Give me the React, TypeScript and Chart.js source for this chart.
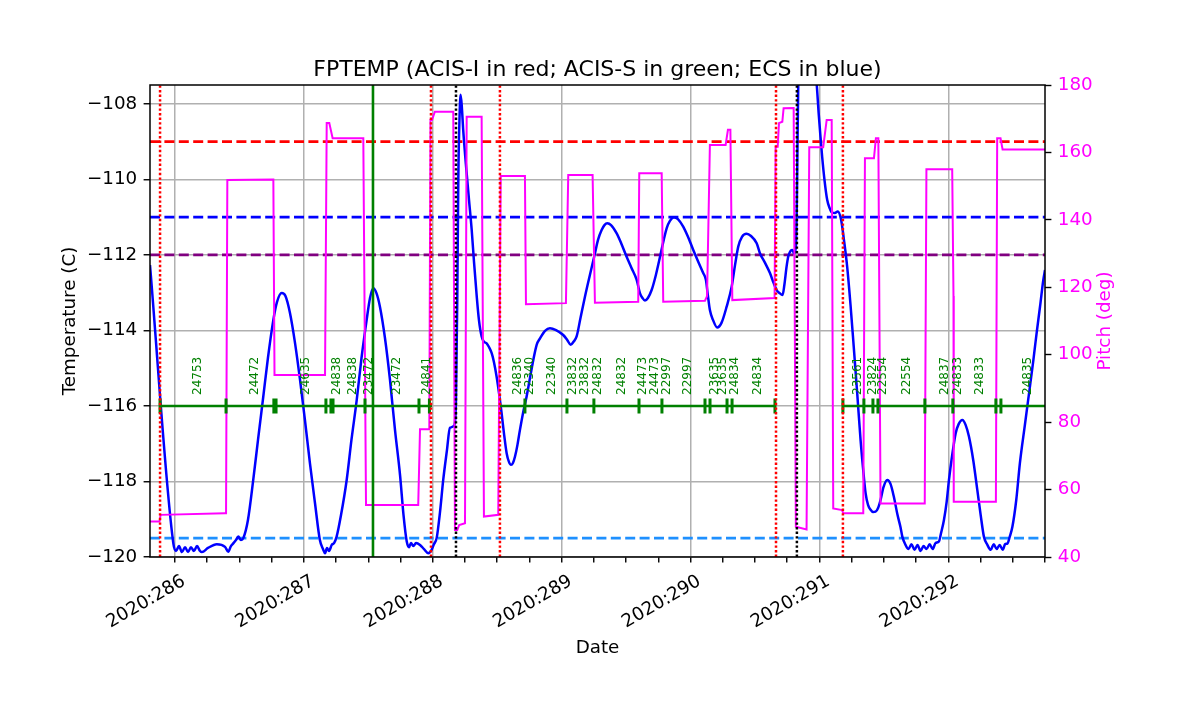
import React, { useEffect, useRef } from "react";
import { Chart, registerables } from "chart.js";

Chart.register(...registerables);

// ---------- data (day of year 2020, fractional) ----------
const tempTimes = [
  285.806, 285.987, 286.008, 286.031, 286.054, 286.078, 286.101, 286.124, 286.147, 286.171,
  286.194, 286.209, 286.256, 286.324, 286.388, 286.413, 286.434, 286.452, 286.473, 286.491,
  286.512, 286.530, 286.566, 286.607, 286.644, 286.685, 286.721, 286.763, 286.791, 286.828,
  286.857, 286.892, 286.931, 286.970, 287.008, 287.047, 287.086, 287.124, 287.148, 287.164,
  287.179, 287.195, 287.216, 287.234, 287.254, 287.288, 287.332, 287.369, 287.410, 287.447,
  287.487, 287.513, 287.538, 287.563, 287.590, 287.629, 287.668, 287.707, 287.746, 287.773,
  287.798, 287.816, 287.831, 287.849, 287.870, 287.901, 287.932, 287.965, 287.991, 288.009,
  288.030, 288.056, 288.081, 288.110, 288.133, 288.164, 288.180, 288.190, 288.198, 288.207,
  288.216, 288.226, 288.236, 288.263, 288.281, 288.302, 288.320, 288.341, 288.358, 288.379,
  288.397, 288.418, 288.436, 288.457, 288.474, 288.495, 288.514, 288.534, 288.552, 288.573,
  288.591, 288.607, 288.622, 288.638, 288.657, 288.676, 288.700, 288.728, 288.754, 288.780,
  288.806, 288.832, 288.871, 288.909, 288.956, 289.012, 289.043, 289.070, 289.092, 289.116,
  289.146, 289.181, 289.219, 289.258, 289.282, 289.310, 289.332, 289.354, 289.383, 289.427,
  289.464, 289.504, 289.541, 289.582, 289.607, 289.627, 289.646, 289.669, 289.698, 289.731,
  289.763, 289.790, 289.815, 289.840, 289.871, 289.902, 289.943, 289.980, 290.021, 290.057,
  290.098, 290.119, 290.134, 290.150, 290.174, 290.207, 290.240, 290.280, 290.319, 290.345,
  290.370, 290.399, 290.435, 290.469, 290.513, 290.539, 290.578, 290.616, 290.644, 290.668,
  290.690, 290.714, 290.728, 290.745, 290.759, 290.777, 290.791, 290.802, 290.817, 290.825,
  290.836, 290.900, 290.976, 290.994, 291.008, 291.021, 291.039, 291.060, 291.078, 291.098,
  291.120, 291.142, 291.168, 291.190, 291.215, 291.241, 291.266, 291.293, 291.319, 291.338,
  291.358, 291.377, 291.397, 291.416, 291.435, 291.455, 291.474, 291.497, 291.526, 291.552,
  291.577, 291.606, 291.629, 291.643, 291.668, 291.691, 291.714, 291.738, 291.761, 291.784,
  291.808, 291.831, 291.855, 291.878, 291.901, 291.927, 291.944, 291.966, 291.987, 292.005,
  292.030, 292.057, 292.080, 292.109, 292.134, 292.160, 292.193, 292.225, 292.251, 292.276,
  292.303, 292.329, 292.352, 292.375, 292.398, 292.422, 292.441, 292.459, 292.476, 292.497,
  292.527, 292.555, 292.594, 292.633, 292.660, 292.685, 292.711, 292.737, 292.750,
];
const tempValues = [
  -112.27, -119.64, -119.84, -119.71, -119.87, -119.74, -119.87, -119.74, -119.84, -119.71,
  -119.84, -119.87, -119.76, -119.66, -119.73, -119.86, -119.71, -119.64, -119.55, -119.46,
  -119.55, -119.50, -119.02, -117.96, -116.90, -115.75, -114.73, -113.72, -113.25, -113.01,
  -113.09, -113.54, -114.33, -115.31, -116.37, -117.52, -118.57, -119.55, -119.79, -119.90,
  -119.76, -119.84, -119.68, -119.63, -119.46, -118.89, -117.96, -116.90, -115.84, -114.73,
  -113.72, -113.14, -112.88, -113.01, -113.37, -114.20, -115.31, -116.64, -117.83, -118.89,
  -119.59, -119.74, -119.63, -119.71, -119.63, -119.68, -119.79, -119.90, -119.81, -119.66,
  -119.50, -118.81, -117.96, -117.17, -116.58, -116.53, -115.84, -113.19, -110.01, -108.42,
  -107.76, -108.11, -108.69, -109.84, -110.54, -111.34, -112.19, -113.10, -113.72, -114.16,
  -114.30, -114.34, -114.44, -114.60, -114.83, -115.22, -115.66, -116.19, -116.72, -117.25,
  -117.48, -117.56, -117.51, -117.34, -117.03, -116.64, -116.19, -115.75, -115.26, -114.78,
  -114.38, -114.21, -114.01, -113.94, -113.99, -114.12, -114.25, -114.38, -114.30, -114.16,
  -113.67, -113.10, -112.53, -111.96, -111.60, -111.34, -111.21, -111.16, -111.21, -111.43,
  -111.71, -112.05, -112.34, -112.66, -113.01, -113.14, -113.21, -113.14, -112.93, -112.53,
  -112.05, -111.63, -111.29, -111.10, -111.00, -111.05, -111.25, -111.52, -111.87, -112.16,
  -112.48, -112.66, -113.06, -113.46, -113.72, -113.92, -113.80, -113.37, -112.84, -112.27,
  -111.78, -111.52, -111.44, -111.50, -111.69, -111.96, -112.21, -112.48, -112.74, -112.93,
  -113.01, -113.06, -112.79, -112.31, -112.03, -111.89, -111.87, -111.96, -111.78, -110.54,
  -107.36, -105.50, -107.36, -108.25, -108.87, -109.40, -110.01, -110.54, -110.75, -110.88,
  -110.89, -110.85, -111.07, -111.60, -112.31, -113.32, -114.43, -115.66, -116.90, -117.64,
  -118.31, -118.62, -118.75, -118.81, -118.80, -118.70, -118.49, -118.15, -117.96, -118.07,
  -118.40, -118.89, -119.21, -119.46, -119.68, -119.79, -119.66, -119.81, -119.68, -119.84,
  -119.71, -119.79, -119.66, -119.79, -119.63, -119.59, -119.36, -119.02, -118.54, -117.96,
  -117.30, -116.72, -116.48, -116.37, -116.50, -116.81, -117.43, -118.23, -118.89, -119.46,
  -119.68, -119.81, -119.66, -119.79, -119.68, -119.81, -119.66, -119.64, -119.47, -119.20,
  -118.49, -117.52, -116.50, -115.49, -114.78, -114.07, -113.38, -112.66, -112.40,
];

const pitchTimes = [
  285.806, 285.880, 285.888, 286.388, 286.396, 286.406, 286.763, 286.772, 287.164, 287.177,
  287.197, 287.223, 287.461, 287.482, 287.887, 287.901, 287.973, 287.982, 287.994, 288.016,
  288.159, 288.172, 288.190, 288.205, 288.250, 288.263, 288.379, 288.397, 288.508, 288.527,
  288.715, 288.723, 289.033, 289.051, 289.240, 289.258, 289.594, 289.602, 289.776, 289.788,
  290.112, 290.128, 290.150, 290.272, 290.290, 290.309, 290.324, 290.652, 290.660, 290.676,
  290.686, 290.712, 290.722, 290.800, 290.817, 290.900, 290.921, 291.029, 291.056, 291.095,
  291.107, 291.175, 291.185, 291.340, 291.353, 291.423, 291.438, 291.457, 291.474, 291.817,
  291.830, 292.030, 292.040, 292.042, 292.369, 292.379, 292.405, 292.421, 292.750,
];
const pitchValues = [
  50.5, 50.5, 52.5, 53.0, 53.0, 151.8, 152.0, 94.0, 94.0, 168.7,
  168.7, 164.2, 164.2, 55.4, 55.4, 77.9, 77.9, 169.6, 169.6, 172.1,
  172.1, 48.0, 48.0, 49.5, 50.0, 170.6, 170.6, 52.0, 52.5, 153.0,
  153.0, 115.0, 115.3, 153.3, 153.3, 115.4, 115.7, 153.8, 153.8, 115.7,
  116.0, 117.4, 162.2, 162.2, 166.7, 166.7, 116.2, 116.8, 161.7, 161.7,
  168.7, 169.1, 173.1, 173.2, 49.0, 48.2, 161.5, 161.5, 169.6, 169.6,
  54.4, 53.9, 53.0, 53.0, 158.3, 158.3, 164.2, 164.2, 55.9, 55.9,
  155.0, 155.0, 117.4, 56.4, 56.4, 164.2, 164.2, 160.9, 160.9,
];

// limits (deg C)
const acisILimit = -109.0;
const ecsLimit = -111.0;
const acisSLimit = -112.0;
const planningLimit = -119.5;

// event times
const radZoneTimes = [285.884, 287.986, 288.521, 290.663, 291.182];
const perigeeTimes = [288.180, 290.825];
const nowTimes = [287.536];

// ACIS obsid intervals
const obsidSegStarts = [285.884, 288.521, 291.185];
const obsidSegEnds = [287.994, 290.655, 292.75];
const obsidLevel = -116.0;
const obsidTickTimes = [
  285.884, 286.396, 286.767, 286.784, 287.171, 287.210, 287.226, 287.474, 287.893, 287.974,
  288.715, 289.041, 289.250, 289.600, 289.778, 290.112, 290.151, 290.283, 290.322, 290.655,
  291.182, 291.345, 291.415, 291.454, 291.818, 292.035, 292.369, 292.408,
];
const obsidLabelTimes = [
  286.178, 286.621, 287.016, 287.257, 287.381, 287.505, 287.722, 287.955,
  288.661, 288.754, 288.925, 289.088, 289.181, 289.282, 289.468, 289.631, 289.724, 289.817,
  289.980, 290.189, 290.251, 290.344, 290.523,
  291.299, 291.415, 291.492, 291.679, 291.974, 292.074, 292.245, 292.617,
];
const obsidLabels = [
  "24753", "24472", "24635", "24838", "24838", "23472", "23472", "24841",
  "24836", "22340", "22340", "23832", "23832", "24832", "24832", "24473", "24473", "22997",
  "22997", "23635", "23635", "24834", "24834",
  "23561", "23824", "22554", "22554", "24837", "24833", "24833", "24835",
];
const obsidLabelLevel = -115.71;

const xTickYear = "2020";

// ---------- helpers ----------
const FONT = "'DejaVu Sans', 'Liberation Sans', sans-serif";
const TICK_FONT = 18.3;
const T_MIN = -120;
const T_MAX = -107.5;
const X_MIN = 285.806;
const X_MAX = 292.75;

function verticalLines(times: number[], lo: number, hi: number) {
  const pts: any[] = [];
  times.forEach((t) => {
    pts.push({ x: t, y: lo }, { x: t, y: hi }, { x: t, y: null });
  });
  return pts;
}

const framePlugin = {
  id: "frame",
  afterDatasetsDraw(chart: any) {
    const { ctx, chartArea: a } = chart;
    ctx.save();
    ctx.strokeStyle = "#000";
    ctx.lineWidth = 1.5;
    ctx.strokeRect(a.left, a.top, a.right - a.left, a.bottom - a.top);
    ctx.restore();
  },
};

const labelPlugin = {
  id: "obsidLabels",
  afterDatasetsDraw(chart: any) {
    const { ctx, scales } = chart;
    const x = scales.x;
    const y = scales.y;
    ctx.save();
    ctx.fillStyle = "#008000";
    ctx.font = `12px ${FONT}`;
    ctx.textAlign = "left";
    ctx.textBaseline = "middle";
    obsidLabelTimes.forEach((t, i) => {
      const px = x.getPixelForValue(t);
      const py = y.getPixelForValue(obsidLabelLevel);
      ctx.save();
      ctx.translate(px, py);
      ctx.rotate(-Math.PI / 2);
      ctx.fillText(obsidLabels[i], 0, 0);
      ctx.restore();
    });
    // right axis title (reads bottom-to-top like matplotlib)
    const a = chart.chartArea;
    ctx.fillStyle = "#ff00ff";
    ctx.font = `${TICK_FONT}px ${FONT}`;
    ctx.textAlign = "center";
    ctx.translate(1105, (a.top + a.bottom) / 2);
    ctx.rotate(-Math.PI / 2);
    ctx.fillText("Pitch (deg)", 0, 0);
    ctx.restore();
  },
};

export default function App() {
  const ref = useRef<HTMLCanvasElement | null>(null);

  useEffect(() => {
    if (!ref.current) return;
    Chart.defaults.font.family = FONT;

    const tempData = tempTimes.map((t, i) => ({ x: t, y: tempValues[i] }));
    const pitchData = pitchTimes.map((t, i) => ({ x: t, y: pitchValues[i] }));
    const hline = (v: number) => [
      { x: X_MIN, y: v },
      { x: X_MAX, y: v },
    ];
    const segData: any[] = [];
    obsidSegStarts.forEach((s, i) => {
      segData.push({ x: s, y: obsidLevel }, { x: obsidSegEnds[i], y: obsidLevel }, { x: s, y: null });
    });
    const tickData = verticalLines(obsidTickTimes, obsidLevel - 0.2, obsidLevel + 0.2);

    const base = {
      pointRadius: 0,
      pointHoverRadius: 0,
      fill: false,
      spanGaps: false,
      clip: 0,
      yAxisID: "y",
    };
    const dash = [10, 4.4];
    const dot = [2.4, 2.2];

    const chart = new Chart(ref.current, {
      type: "line",
      data: {
        datasets: [
          { ...base, label: "now", data: verticalLines(nowTimes, T_MIN, T_MAX), borderColor: "#008000", borderWidth: 2.6, order: 1 },
          { ...base, label: "radzone", data: verticalLines(radZoneTimes, T_MIN, T_MAX), borderColor: "#ff0000", borderWidth: 2.5, borderDash: dot, order: 1 },
          { ...base, label: "perigee", data: verticalLines(perigeeTimes, T_MIN, T_MAX), borderColor: "#000000", borderWidth: 2.5, borderDash: dot, order: 1 },
          { ...base, label: "obsid ticks", data: tickData, borderColor: "#008000", borderWidth: 3, order: 2 },
          { ...base, label: "obsid segs", data: segData, borderColor: "#008000", borderWidth: 2.6, order: 2 },
          { ...base, label: "pitch", data: pitchData, borderColor: "#ff00ff", borderWidth: 2, yAxisID: "y2", order: 3 },
          { ...base, label: "FPTEMP", data: tempData, borderColor: "#0000ff", borderWidth: 2.5, cubicInterpolationMode: "monotone", order: 4 },
          { ...base, label: "ACIS-I", data: hline(acisILimit), borderColor: "#ff0000", borderWidth: 2.6, borderDash: dash, order: 5 },
          { ...base, label: "ECS", data: hline(ecsLimit), borderColor: "#0000ff", borderWidth: 2.6, borderDash: dash, order: 5 },
          { ...base, label: "ACIS-S", data: hline(acisSLimit), borderColor: "#800080", borderWidth: 2.6, borderDash: dash, order: 5 },
          { ...base, label: "planning", data: hline(planningLimit), borderColor: "#1e90ff", borderWidth: 2.6, borderDash: dash, order: 5 },
        ] as any,
      },
      options: {
        animation: false,
        responsive: false,
        devicePixelRatio: 1,
        events: [],
        layout: { padding: 0 },
        plugins: {
          legend: { display: false },
          tooltip: { enabled: false },
          title: {
            display: true,
            text: "FPTEMP (ACIS-I in red; ACIS-S in green; ECS in blue)",
            color: "#000",
            fullSize: false,
            font: { family: FONT, size: 22, weight: "normal", lineHeight: 1.2 },
            padding: { top: 57, bottom: 1.6 },
          },
        },
        scales: {
          x: {
            type: "linear",
            position: "bottom",
            min: X_MIN,
            max: X_MAX,
            afterFit: (s: any) => {
              s.height = 157;
            },
            border: { display: false },
            grid: {
              color: (c: any) =>
                c.tick && Math.abs(c.tick.value - Math.round(c.tick.value)) < 1e-6 ? "#b0b0b0" : "rgba(0,0,0,0)",
              lineWidth: 1.5,
              tickColor: "#000",
              tickWidth: 1.4,
              tickLength: 5.5,
              drawTicks: true,
            },
            ticks: {
              stepSize: 0.25,
              maxTicksLimit: 200,
              includeBounds: false,
              autoSkip: false,
              minRotation: 30,
              maxRotation: 30,
              padding: 8,
              labelOffset: 9,
              color: "#000",
              font: { family: FONT, size: TICK_FONT },
              callback: (v: any) => {
                const n = Number(v);
                return Math.abs(n - Math.round(n)) < 1e-6 ? `${xTickYear}:${Math.round(n)}` : "";
              },
            },
            title: {
              display: true,
              text: "Date",
              color: "#000",
              font: { family: FONT, size: TICK_FONT },
              padding: { top: 0, bottom: 55 },
            },
          },
          y: {
            type: "linear",
            position: "left",
            min: T_MIN,
            max: T_MAX,
            afterFit: (s: any) => {
              s.width = 150;
            },
            border: { display: false },
            grid: {
              color: "#b0b0b0",
              lineWidth: 1.5,
              tickColor: "#000",
              tickWidth: 1.4,
              tickLength: 6.4,
            },
            ticks: {
              stepSize: 2,
              includeBounds: false,
              maxTicksLimit: 100,
              padding: 6.4,
              color: "#000",
              font: { family: FONT, size: TICK_FONT },
              callback: (v: any) => String(v).replace("-", "\u2212"),
            },
            title: {
              display: true,
              text: "Temperature (C)",
              color: "#000",
              font: { family: FONT, size: TICK_FONT },
              padding: { top: 59, bottom: 0 },
            },
          },
          y2: {
            type: "linear",
            position: "right",
            min: 40,
            max: 180,
            afterFit: (s: any) => {
              s.width = 155;
            },
            border: { display: false },
            grid: {
              drawOnChartArea: false,
              tickColor: "#000",
              tickWidth: 1.4,
              tickLength: 6.4,
            },
            ticks: {
              stepSize: 20,
              includeBounds: false,
              maxTicksLimit: 100,
              padding: 6.4,
              color: "#ff00ff",
              font: { family: FONT, size: TICK_FONT },
            },
          },
        },
      } as any,
      plugins: [framePlugin, labelPlugin],
    });
    return () => chart.destroy();
  }, []);

  return (
    <div style={{ position: "fixed", left: 0, top: 0, width: 1200, height: 714, background: "#fff" }}>
      <canvas ref={ref} width={1200} height={714} style={{ display: "block", width: 1200, height: 714 }} />
    </div>
  );
}
